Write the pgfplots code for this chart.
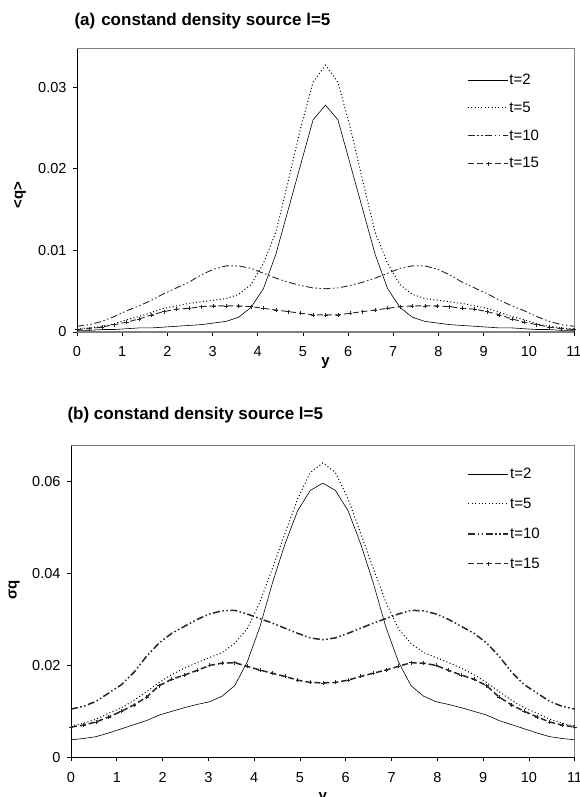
\documentclass[border=0pt]{standalone}
\usepackage{fontspec}
\setmainfont{Liberation Sans}
\usepackage{pgfplots}
\pgfplotsset{compat=1.18}
\usepackage{pgfplotstable}

% mean concentration <q>, profiles across y for four times
\pgfplotstableread{
x      a2      a5      a10     a15
0      0.0002  0.0004  0.0007  0.0003
0.275  0.0002  0.0005  0.0009  0.0004
0.55   0.0003  0.0007  0.0013  0.0006
0.825  0.0003  0.0010  0.0019  0.0009
1.1    0.0004  0.0015  0.0026  0.0012
1.375  0.0005  0.0019  0.0032  0.0016
1.65   0.0005  0.0024  0.0039  0.0021
1.925  0.0006  0.0029  0.0047  0.0025
2.2    0.0007  0.0032  0.0054  0.0028
2.475  0.0008  0.0035  0.0061  0.0029
2.75   0.0009  0.0037  0.0070  0.0031
3.025  0.0011  0.0039  0.0077  0.0032
3.3    0.0013  0.0041  0.0081  0.0032
3.575  0.0018  0.0046  0.0081  0.0032
3.85   0.0030  0.0058  0.0078  0.0031
4.125  0.0053  0.0084  0.0072  0.0029
4.4    0.0095  0.0122  0.0066  0.0027
4.675  0.0150  0.0185  0.0061  0.0025
4.95   0.0205  0.0250  0.0057  0.0023
5.225  0.0260  0.0306  0.0054  0.0021
5.5    0.0278  0.0327  0.0053  0.0021
5.775  0.0260  0.0306  0.0054  0.0021
6.05   0.0205  0.0250  0.0057  0.0023
6.325  0.0150  0.0185  0.0061  0.0025
6.6    0.0095  0.0122  0.0066  0.0027
6.875  0.0053  0.0084  0.0072  0.0029
7.15   0.0030  0.0058  0.0078  0.0031
7.425  0.0018  0.0046  0.0081  0.0032
7.7    0.0013  0.0041  0.0081  0.0032
7.975  0.0011  0.0039  0.0077  0.0032
8.25   0.0009  0.0037  0.0070  0.0031
8.525  0.0008  0.0035  0.0061  0.0029
8.8    0.0007  0.0032  0.0054  0.0028
9.075  0.0006  0.0029  0.0047  0.0025
9.35   0.0005  0.0024  0.0039  0.0021
9.625  0.0005  0.0019  0.0032  0.0016
9.9    0.0004  0.0015  0.0026  0.0012
10.175 0.0003  0.0010  0.0019  0.0009
10.45  0.0003  0.0007  0.0013  0.0006
10.725 0.0002  0.0005  0.0009  0.0004
11     0.0002  0.0004  0.0007  0.0003
}\meantable

% standard deviation sigma_q, same profiles
\pgfplotstableread{
x      b2      b5      b10     b15
0      0.0038  0.0068  0.0105  0.0066
0.275  0.0041  0.0074  0.0111  0.0070
0.55   0.0045  0.0083  0.0122  0.0077
0.825  0.0053  0.0096  0.0140  0.0088
1.1    0.0062  0.0108  0.0158  0.0100
1.375  0.0071  0.0124  0.0185  0.0114
1.65   0.0080  0.0143  0.0220  0.0131
1.925  0.0092  0.0163  0.0249  0.0156
2.2    0.0100  0.0180  0.0270  0.0170
2.475  0.0108  0.0194  0.0285  0.0179
2.75   0.0115  0.0206  0.0300  0.0189
3.025  0.0121  0.0217  0.0312  0.0200
3.3    0.0133  0.0228  0.0319  0.0205
3.575  0.0156  0.0248  0.0320  0.0206
3.85   0.0208  0.0280  0.0312  0.0198
4.125  0.0284  0.0338  0.0302  0.0190
4.4    0.0380  0.0412  0.0292  0.0183
4.675  0.0465  0.0488  0.0281  0.0176
4.95   0.0537  0.0563  0.0270  0.0168
5.225  0.0581  0.0620  0.0260  0.0163
5.5    0.0597  0.0641  0.0256  0.0162
5.775  0.0581  0.0620  0.0260  0.0163
6.05   0.0537  0.0563  0.0270  0.0168
6.325  0.0465  0.0488  0.0281  0.0176
6.6    0.0380  0.0412  0.0292  0.0183
6.875  0.0284  0.0338  0.0302  0.0190
7.15   0.0208  0.0280  0.0312  0.0198
7.425  0.0156  0.0248  0.0320  0.0206
7.7    0.0133  0.0228  0.0319  0.0205
7.975  0.0121  0.0217  0.0312  0.0200
8.25   0.0115  0.0206  0.0300  0.0189
8.525  0.0108  0.0194  0.0285  0.0179
8.8    0.0100  0.0180  0.0270  0.0170
9.075  0.0092  0.0163  0.0249  0.0156
9.35   0.0080  0.0143  0.0220  0.0131
9.625  0.0071  0.0124  0.0185  0.0114
9.9    0.0062  0.0108  0.0158  0.0100
10.175 0.0053  0.0096  0.0140  0.0088
10.45  0.0045  0.0083  0.0122  0.0077
10.725 0.0041  0.0074  0.0111  0.0070
11     0.0038  0.0068  0.0105  0.0066
}\sigmatable

\pgfplotsset{
  profile/.style={
    scale only axis,
    xmin=0, xmax=11, ymin=0,
    axis lines=left,
    axis line style={-, black, line width=0.6pt},
    tick align=outside,
    major tick length=4pt,
    tick style={black, line width=0.6pt},
    scaled y ticks=false,
    xtick={0,1,2,3,4,5,6,7,8,9,10,11},
    xticklabels={0,1,2,3,4,5,6,7,8,9,10,11},
    ticklabel style={font=\fontsize{14.5}{17}\selectfont},
    xticklabel style={anchor=base, yshift=-21pt},
    yticklabel style={anchor=east, xshift=-3pt},
    label style={font=\bfseries\fontsize{15}{18}\selectfont},
    legend cell align=left,
    legend image code/.code={
      \draw[mark repeat=2,mark phase=2,#1]
        plot coordinates {(0pt,0pt) (20pt,0pt) (40pt,0pt)};},
    clip=false,
  },
  t2/.style={black, line width=0.6pt},
  t5/.style={black, line width=1pt, dash pattern=on 1pt off 2.4pt},
  t10/.style={black!85, line width=#1,
    dash pattern=on 7pt off 2.5pt on 1.5pt off 2.5pt on 1.5pt off 2.5pt},
  t15/.style={black!85, line width=#1, dash pattern=on 6pt off 3pt,
    mark=+, mark size=2pt, mark options={solid, line width=0.6pt}},
}

\begin{document}
\begin{tikzpicture}
\useasboundingbox (0pt,0pt) rectangle (580pt,797pt);

% (a) mean
\node[anchor=base west, font=\bfseries\fontsize{17}{20}\selectfont]
  at (71pt,771pt) {(a)\hspace{6pt}constand density source l=5};
\begin{axis}[profile,
  at={(77pt,465pt)}, anchor=south west,
  width=497pt, height=284pt,
  ymax=0.0348,
  x axis line style={gray, line width=1.6pt},
  ytick={0,0.01,0.02,0.03},
  yticklabels={0,0.01,0.02,0.03},
  xlabel={y},
  xlabel style={at={(axis description cs:0.5,-0.117)}, anchor=base},
  ylabel={<q>},
  ylabel style={at={(axis description cs:-0.115,0.482)}, anchor=center},
  legend style={draw=none, fill=none, inner sep=0pt,
    at={(axis description cs:0.785,0.913)}, anchor=north west,
    font=\fontsize{15}{18}\selectfont, row sep=14pt,
    nodes={inner xsep=1pt, inner ysep=1pt}},
]
\draw[gray, line width=0.6pt] (rel axis cs:0,1) -- (rel axis cs:1,1) -- (rel axis cs:1,0);
\addplot[t2] table[x=x, y=a2] {\meantable};
\addlegendentry{t=2}
\addplot[t5] table[x=x, y=a5] {\meantable};
\addlegendentry{t=5}
\addplot[t10=0.9pt] table[x=x, y=a10] {\meantable};
\addlegendentry{t=10}
\addplot[t15=0.9pt] table[x=x, y=a15] {\meantable};
\addlegendentry{t=15}
\end{axis}

% (b) standard deviation
\node[anchor=base west, font=\bfseries\fontsize{17}{20}\selectfont]
  at (64pt,377pt) {(b) constand density source l=5};
\begin{axis}[profile,
  at={(71pt,39.7pt)}, anchor=south west,
  width=503.7pt, height=312.3pt,
  ymax=0.068,
  ytick={0,0.02,0.04,0.06},
  yticklabels={0,0.02,0.04,0.06},
  xlabel={y},
  xlabel style={at={(axis description cs:0.5,-0.139)}, anchor=base},
  ylabel={σq},
  ylabel style={at={(axis description cs:-0.113,0.536)}, anchor=center},
  legend style={draw=none, fill=none, inner sep=0pt,
    at={(axis description cs:0.787,0.93)}, anchor=north west,
    font=\fontsize{15}{18}\selectfont, row sep=16pt,
    nodes={inner xsep=1pt, inner ysep=1pt}},
]
\draw[gray, line width=0.6pt] (rel axis cs:0,1) -- (rel axis cs:1,1) -- (rel axis cs:1,0);
\addplot[t2] table[x=x, y=b2] {\sigmatable};
\addlegendentry{t=2}
\addplot[t5] table[x=x, y=b5] {\sigmatable};
\addlegendentry{t=5}
\addplot[t10=1.5pt] table[x=x, y=b10] {\sigmatable};
\addlegendentry{t=10}
\addplot[t15=1.5pt] table[x=x, y=b15] {\sigmatable};
\addlegendentry{t=15}
\end{axis}
\end{tikzpicture}
\end{document}
